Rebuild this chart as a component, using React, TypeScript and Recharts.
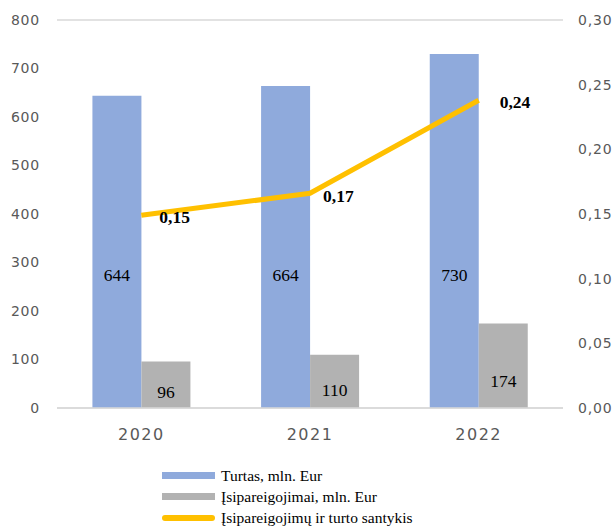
import { ComposedChart, Bar, Line, XAxis, YAxis, CartesianGrid, Legend, LabelList } from 'recharts'

const years = ['2020', '2021', '2022']
const assets = [644, 664, 730]
const liabilities = [96, 110, 174]
const ratio = [0.149, 0.166, 0.238]
const leftTicks = [0, 100, 200, 300, 400, 500, 600, 700, 800]
const rightTicks = [0, 0.05, 0.1, 0.15, 0.2, 0.25, 0.3]

const legendItems = [
  { name: 'Turtas, mln. Eur', color: '#8FAADC', kind: 'bar' },
  { name: 'Įsipareigojimai, mln. Eur', color: '#B2B2B2', kind: 'bar' },
  { name: 'Įsipareigojimų ir turto santykis', color: '#FFC000', kind: 'line' },
]

const data = years.map((year, i) => ({
  year,
  assets: assets[i],
  liabilities: liabilities[i],
  ratio: ratio[i],
}))

const comma = (v: number, d: number) => v.toFixed(d).replace('.', ',')

const tickStyle = { fontSize: 14, fill: '#595959', fontFamily: 'DejaVu Sans', letterSpacing: 0.8 }

// label y: either a share of the bar height, or a fixed distance up from the base
function BarValue(props: any, share: number, fromBase?: number) {
  const { x, y, width, height, value } = props
  const ty = fromBase != null ? y + height - fromBase : y + height * share
  return (
    <text
      x={x + width / 2}
      y={ty}
      textAnchor="middle"
      dominantBaseline="middle"
      fontFamily="Liberation Serif"
      fontSize={17.5}
      fill="#000"
    >
      {value}
    </text>
  )
}

const ratioOffsets = [
  { dx: 2, dy: 4 },
  { dx: -3, dy: 5 },
  { dx: 5, dy: 4 },
]

function RatioValue(props: any) {
  const { x, y, value, index } = props
  const off = ratioOffsets[index] || { dx: 0, dy: 0 }
  return (
    <text
      x={x + 16 + off.dx}
      y={y + off.dy}
      textAnchor="start"
      dominantBaseline="middle"
      fontFamily="Liberation Serif"
      fontWeight="bold"
      fontSize={17.5}
      fill="#000"
    >
      {comma(value, 2)}
    </text>
  )
}

function LegendBox() {
  return (
    <div style={{ paddingTop: 27, paddingLeft: 162, textAlign: 'left' }}>
      {legendItems.map((item) => (
        <div
          key={item.name}
          style={{ display: 'flex', alignItems: 'center', height: 21, fontFamily: 'Liberation Serif', fontSize: 15.5, lineHeight: '18px', color: '#000' }}
        >
          <span
            style={{
              display: 'inline-block',
              width: 53,
              height: item.kind === 'bar' ? 7 : 6,
              borderRadius: item.kind === 'bar' ? 0 : 3,
              background: item.color,
              marginRight: 6,
            }}
          />
          {item.name}
        </div>
      ))}
    </div>
  )
}

export default function App() {
  return (
    <div style={{ position: 'absolute', left: 0, top: 0, width: 615, height: 526, background: '#fff' }}>
      <ComposedChart
        width={615}
        height={526}
        data={data}
        margin={{ top: 20, right: 0, bottom: 0, left: 0 }}
        barGap={0}
        barCategoryGap="21%"
      >
        <CartesianGrid vertical={false} stroke="#D9D9D9" strokeWidth={1.3} />
        <XAxis
          dataKey="year"
          axisLine={{ stroke: '#D9D9D9', strokeWidth: 1.3 }}
          tickLine={false}
          tickMargin={15}
          height={30}
          tick={{ ...tickStyle, fontSize: 16, letterSpacing: 1.5 }}
        />
        <YAxis
          yAxisId="left"
          domain={[0, 800]}
          ticks={leftTicks}
          axisLine={false}
          tickLine={false}
          width={57}
          tickMargin={11}
          tick={tickStyle}
        />
        <YAxis
          yAxisId="right"
          orientation="right"
          domain={[0, 0.3]}
          ticks={rightTicks}
          axisLine={false}
          tickLine={false}
          width={52}
          tickMargin={9}
          tickFormatter={(v: number) => comma(v, 2)}
          tick={tickStyle}
        />
        <Legend verticalAlign="bottom" height={88} content={() => <LegendBox />} />
        <Bar yAxisId="left" dataKey="assets" fill="#8FAADC" isAnimationActive={false}>
          <LabelList dataKey="assets" content={(p: any) => BarValue(p, 0, 131)} />
        </Bar>
        <Bar yAxisId="left" dataKey="liabilities" fill="#B2B2B2" isAnimationActive={false}>
          <LabelList dataKey="liabilities" content={(p: any) => BarValue(p, 0.7)} />
        </Bar>
        <Line
          yAxisId="right"
          dataKey="ratio"
          stroke="#FFC000"
          strokeWidth={5}
          dot={false}
          activeDot={false}
          isAnimationActive={false}
        >
          <LabelList dataKey="ratio" content={RatioValue} />
        </Line>
      </ComposedChart>
    </div>
  )
}
